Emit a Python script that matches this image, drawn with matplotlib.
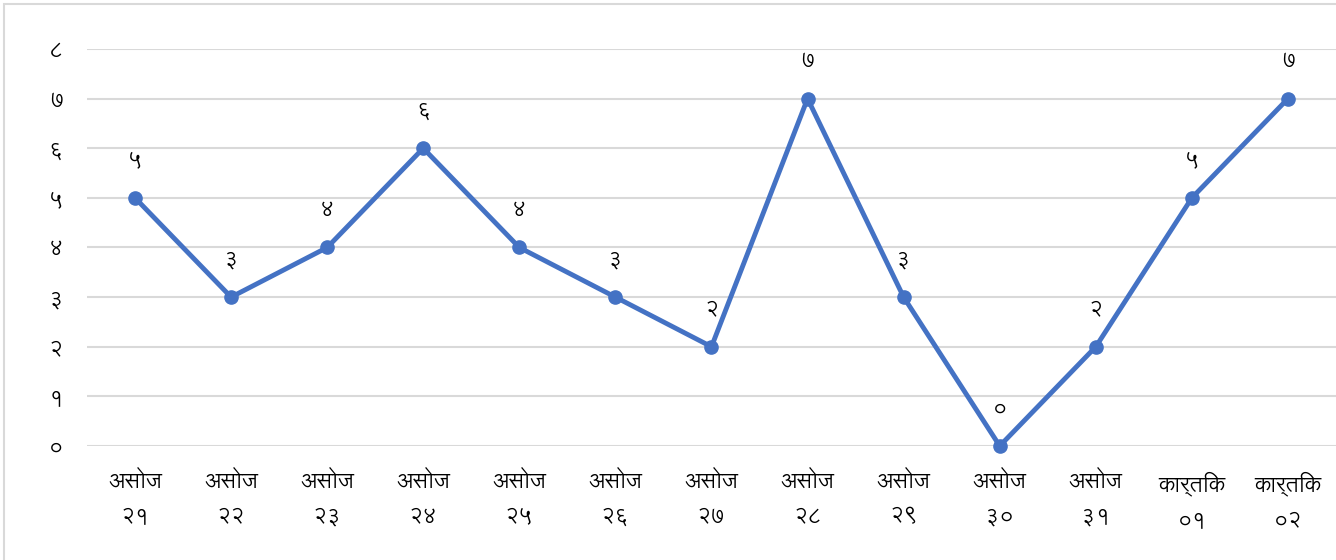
import matplotlib
matplotlib.use('Agg')
import matplotlib.pyplot as plt
from matplotlib.patches import Rectangle

# Nepali dates (month + day) and counts
months = ['असोज'] * 11 + ['कार्तिक'] * 2
days = ['२१', '२२', '२३', '२४', '२५', '२६', '२७', '२८', '२९', '३०', '३१', '०१', '०२']
values = [5, 3, 4, 6, 4, 3, 2, 7, 3, 0, 2, 5, 7]
value_labels = ['५', '३', '४', '६', '४', '३', '२', '७', '३', '०', '२', '५', '७']
y_ticks = [0, 1, 2, 3, 4, 5, 6, 7, 8]
y_tick_labels = ['०', '१', '२', '३', '४', '५', '६', '७', '८']

plt.rcParams['font.family'] = ['Lohit Devanagari', 'DejaVu Sans']

fig = plt.figure(figsize=(13.36, 5.6), dpi=100)
ax = fig.add_axes([0.0651, 0.2036, 0.9349, 0.7089])

x = list(range(len(values)))
ax.plot(x, values, color='#4472C4', linewidth=3.5, marker='o', markersize=9.5,
        zorder=3, clip_on=False)

for xi, v, lab in zip(x, values, value_labels):
    ax.annotate(lab, (xi, v), xytext=(0, 27), textcoords='offset points',
                ha='center', va='center', fontsize=16, color='black')

ax.set_xlim(-0.5, len(values) - 0.5)
ax.set_ylim(0, 8)
ax.set_yticks(y_ticks)
ax.set_yticklabels(y_tick_labels, fontsize=16)
ax.set_xticks(x)
ax.set_xticklabels([m + '\n' + d for m, d in zip(months, days)], fontsize=16, linespacing=1.9)
ax.tick_params(axis='both', length=0, colors='black')
ax.tick_params(axis='y', pad=17)
ax.tick_params(axis='x', pad=18)

ax.grid(axis='y', color='#D9D9D9', linewidth=1.5)
ax.set_axisbelow(True)
for s in ax.spines.values():
    s.set_visible(False)

# outer chart border
fig.patches.append(Rectangle((4 / 1336, -0.1), 1.2, 1 - 4 / 560 + 0.1, transform=fig.transFigure,
                             fill=False, edgecolor='#D9D9D9', linewidth=1.5))

fig.savefig('out.png', dpi=100)
